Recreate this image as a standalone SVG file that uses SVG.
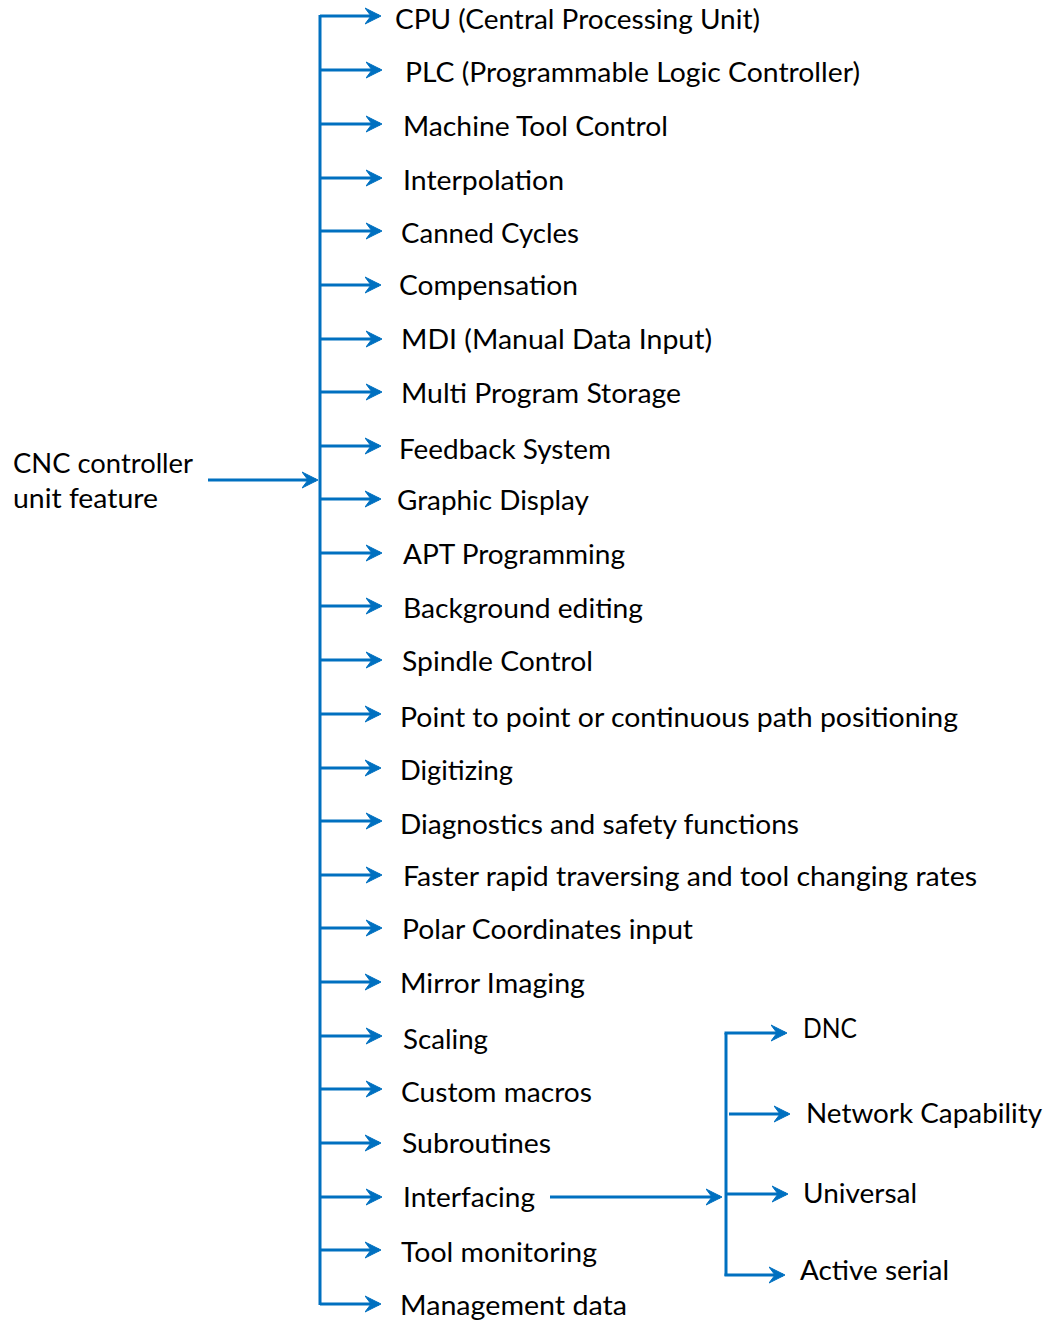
<svg xmlns="http://www.w3.org/2000/svg" width="1047" height="1322" viewBox="0 0 1047 1322">
<style>
  .t { font-family: Lato, "Liberation Sans", sans-serif; font-size: 27px; fill: #000; }
  .c { stroke: #0070C0; stroke-width: 3; fill: none; }
  .a { stroke: #0070C0; stroke-width: 3; fill: none; marker-end: url(#arr); }
</style>
<defs>
  <marker id="arr" markerUnits="userSpaceOnUse" viewBox="0 0 17 18" markerWidth="17" markerHeight="18" refX="14" refY="9" orient="auto">
    <path d="M0,1 L16,9 L0,17 L6,9 Z" fill="#0070C0" stroke="#0070C0" stroke-width="1" stroke-linejoin="round"/>
  </marker>
</defs>
<rect width="1047" height="1322" fill="#fff"/>
<g id="connectors">
  <line class="c" x1="320" y1="15" x2="320" y2="1305"/>
  <line class="a" x1="208" y1="480" x2="316" y2="480"/>
  <line class="a" x1="320" y1="16" x2="379" y2="16"/>
  <line class="a" x1="320" y1="70" x2="380" y2="70"/>
  <line class="a" x1="320" y1="124" x2="380" y2="124"/>
  <line class="a" x1="320" y1="178" x2="380" y2="178"/>
  <line class="a" x1="320" y1="231" x2="380" y2="231"/>
  <line class="a" x1="320" y1="285" x2="379" y2="285"/>
  <line class="a" x1="320" y1="339" x2="380" y2="339"/>
  <line class="a" x1="320" y1="392" x2="380" y2="392"/>
  <line class="a" x1="320" y1="446" x2="379" y2="446"/>
  <line class="a" x1="320" y1="499" x2="379" y2="499"/>
  <line class="a" x1="320" y1="553" x2="380" y2="553"/>
  <line class="a" x1="320" y1="606" x2="380" y2="606"/>
  <line class="a" x1="320" y1="660" x2="380" y2="660"/>
  <line class="a" x1="320" y1="714" x2="379" y2="714"/>
  <line class="a" x1="320" y1="768" x2="379" y2="768"/>
  <line class="a" x1="320" y1="821" x2="380" y2="821"/>
  <line class="a" x1="320" y1="875" x2="380" y2="875"/>
  <line class="a" x1="320" y1="928" x2="380" y2="928"/>
  <line class="a" x1="320" y1="982" x2="379" y2="982"/>
  <line class="a" x1="320" y1="1036" x2="380" y2="1036"/>
  <line class="a" x1="320" y1="1089" x2="380" y2="1089"/>
  <line class="a" x1="320" y1="1143" x2="379" y2="1143"/>
  <line class="a" x1="320" y1="1197" x2="380" y2="1197"/>
  <line class="a" x1="320" y1="1250" x2="379" y2="1250"/>
  <line class="a" x1="320" y1="1304" x2="379" y2="1304"/>
  <line class="a" x1="550" y1="1197" x2="720" y2="1197"/>
  <line class="c" x1="726" y1="1033" x2="726" y2="1276"/>
  <line class="a" x1="724.5" y1="1033" x2="785" y2="1033"/>
  <line class="a" x1="729" y1="1114" x2="788" y2="1114"/>
  <line class="a" x1="726" y1="1194" x2="786" y2="1194"/>
  <line class="a" x1="724.5" y1="1275" x2="783" y2="1275"/>
</g>
<g id="root"><text class="t" x="13" y="473" textLength="180" lengthAdjust="spacingAndGlyphs">CNC controller</text><text class="t" x="13" y="508" textLength="145" lengthAdjust="spacingAndGlyphs">unit feature</text></g>
<g id="n1"><text class="t" x="395" y="29" textLength="365" lengthAdjust="spacingAndGlyphs">CPU (Central Processing Unit)</text></g>
<g id="n2"><text class="t" x="405" y="82" textLength="455" lengthAdjust="spacingAndGlyphs">PLC (Programmable Logic Controller)</text></g>
<g id="n3"><text class="t" x="403" y="135.5" textLength="265" lengthAdjust="spacingAndGlyphs">Machine Tool Control</text></g>
<g id="n4"><text class="t" x="403" y="190" textLength="161" lengthAdjust="spacingAndGlyphs">Interpolation</text></g>
<g id="n5"><text class="t" x="401" y="243" textLength="178" lengthAdjust="spacingAndGlyphs">Canned Cycles</text></g>
<g id="n6"><text class="t" x="399" y="295" textLength="179" lengthAdjust="spacingAndGlyphs">Compensation</text></g>
<g id="n7"><text class="t" x="401" y="348.5" textLength="311" lengthAdjust="spacingAndGlyphs">MDI (Manual Data Input)</text></g>
<g id="n8"><text class="t" x="401" y="402.5" textLength="280" lengthAdjust="spacingAndGlyphs">Multi Program Storage</text></g>
<g id="n9"><text class="t" x="399" y="458.5" textLength="212" lengthAdjust="spacingAndGlyphs">Feedback System</text></g>
<g id="n10"><text class="t" x="397" y="509.5" textLength="192" lengthAdjust="spacingAndGlyphs">Graphic Display</text></g>
<g id="n11"><text class="t" x="403" y="563.5" textLength="222" lengthAdjust="spacingAndGlyphs">APT Programming</text></g>
<g id="n12"><text class="t" x="403" y="617.5" textLength="240" lengthAdjust="spacingAndGlyphs">Background editing</text></g>
<g id="n13"><text class="t" x="402" y="670.5" textLength="191" lengthAdjust="spacingAndGlyphs">Spindle Control</text></g>
<g id="n14"><text class="t" x="400" y="726.5" textLength="558" lengthAdjust="spacingAndGlyphs">Point to point or continuous path positioning</text></g>
<g id="n15"><text class="t" x="400" y="779.5" textLength="113" lengthAdjust="spacingAndGlyphs">Digitizing</text></g>
<g id="n16"><text class="t" x="400" y="833.5" textLength="399" lengthAdjust="spacingAndGlyphs">Diagnostics and safety functions</text></g>
<g id="n17"><text class="t" x="403" y="885.5" textLength="574" lengthAdjust="spacingAndGlyphs">Faster rapid traversing and tool changing rates</text></g>
<g id="n18"><text class="t" x="402" y="938.5" textLength="291" lengthAdjust="spacingAndGlyphs">Polar Coordinates input</text></g>
<g id="n19"><text class="t" x="400" y="992.5" textLength="185" lengthAdjust="spacingAndGlyphs">Mirror Imaging</text></g>
<g id="n20"><text class="t" x="403" y="1048.5" textLength="85" lengthAdjust="spacingAndGlyphs">Scaling</text></g>
<g id="n21"><text class="t" x="401" y="1101.5" textLength="191" lengthAdjust="spacingAndGlyphs">Custom macros</text></g>
<g id="n22"><text class="t" x="402" y="1152.5" textLength="149" lengthAdjust="spacingAndGlyphs">Subroutines</text></g>
<g id="n23"><text class="t" x="403" y="1207" textLength="132" lengthAdjust="spacingAndGlyphs">Interfacing</text></g>
<g id="n24"><text class="t" x="401" y="1262" textLength="196" lengthAdjust="spacingAndGlyphs">Tool monitoring</text></g>
<g id="n25"><text class="t" x="400" y="1315" textLength="227" lengthAdjust="spacingAndGlyphs">Management data</text></g>
<g id="s1"><text class="t" x="803" y="1038" textLength="54" lengthAdjust="spacingAndGlyphs">DNC</text></g>
<g id="s2"><text class="t" x="806" y="1123" textLength="236" lengthAdjust="spacingAndGlyphs">Network Capability</text></g>
<g id="s3"><text class="t" x="803" y="1203" textLength="114" lengthAdjust="spacingAndGlyphs">Universal</text></g>
<g id="s4"><text class="t" x="800" y="1280" textLength="149" lengthAdjust="spacingAndGlyphs">Active serial</text></g>
</svg>
